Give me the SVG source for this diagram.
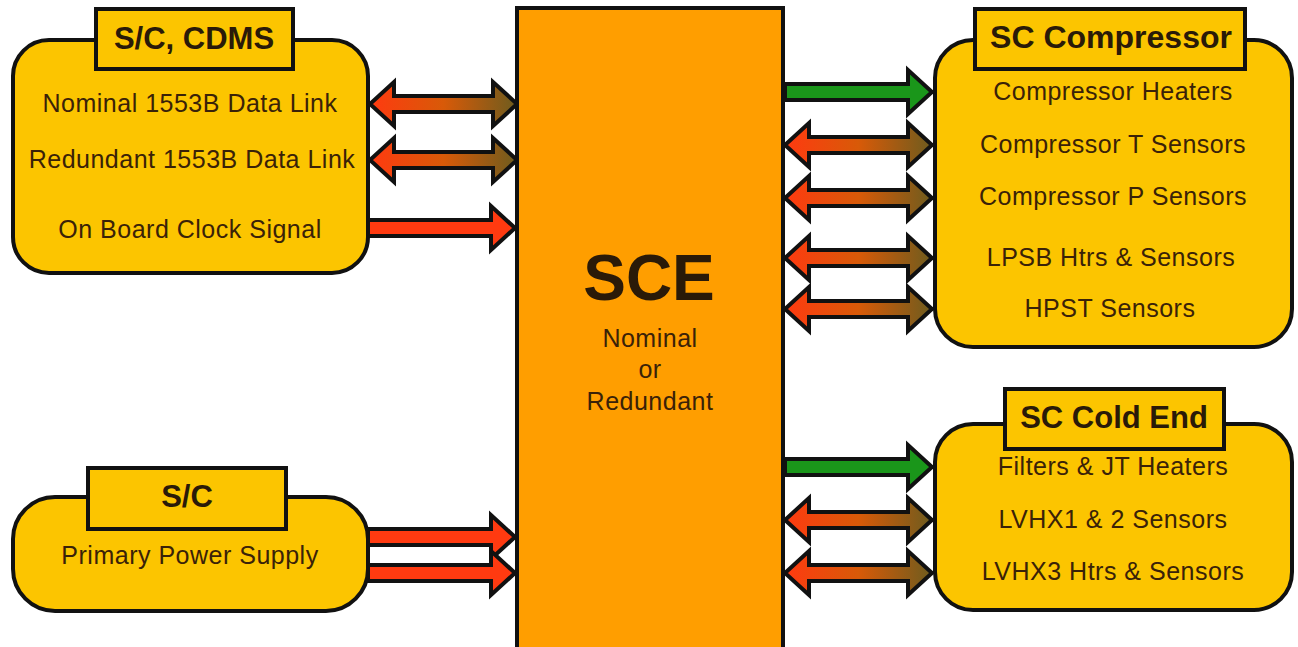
<svg xmlns="http://www.w3.org/2000/svg" width="1298" height="647" viewBox="0 0 1298 647">
<style>
.box{fill:#fcc500;stroke:#111;stroke-width:4}
.title{fill:#fcc500;stroke:#111;stroke-width:4}
.sce{fill:#ff9e00;stroke:#111;stroke-width:4}
.t{font-family:"Liberation Sans",Arial,sans-serif;font-size:25px;letter-spacing:0.5px;fill:#3a2208;text-anchor:middle}
.h{font-family:"Liberation Sans",Arial,sans-serif;font-size:31px;font-weight:bold;fill:#2a1a08;text-anchor:middle}
.arr{stroke:#111;stroke-width:4;stroke-linejoin:miter}
</style>
<defs>
<linearGradient id="rg" x1="0" y1="0" x2="1" y2="0">
<stop offset="0" stop-color="#ff3a10"/>
<stop offset="0.5" stop-color="#d85a08"/>
<stop offset="1" stop-color="#6e5c1e"/>
</linearGradient>
<path id="dbl" d="M0,0 L24,-22 L24,-8 L123,-8 L123,-22 L147,0 L123,22 L123,8 L24,8 L24,22 Z"/>
<path id="sgl" d="M0,-8 L123,-8 L123,-22 L147,0 L123,22 L123,8 L0,8 Z"/>
</defs>
<rect width="1298" height="647" fill="#ffffff"/>

<g id="connectors">
<use href="#dbl" class="arr" fill="url(#rg)" transform="translate(370,104)"/>
<use href="#dbl" class="arr" fill="url(#rg)" transform="translate(370,160)"/>
<use href="#sgl" class="arr" fill="#ff3a10" transform="translate(368,228)"/>
<use href="#sgl" class="arr" fill="#ff3a10" transform="translate(368,537)"/>
<use href="#sgl" class="arr" fill="#ff3a10" transform="translate(368,573)"/>
<use href="#sgl" class="arr" fill="#1a961a" transform="translate(785,92)"/>
<use href="#dbl" class="arr" fill="url(#rg)" transform="translate(785,145)"/>
<use href="#dbl" class="arr" fill="url(#rg)" transform="translate(785,198)"/>
<use href="#dbl" class="arr" fill="url(#rg)" transform="translate(785,258)"/>
<use href="#dbl" class="arr" fill="url(#rg)" transform="translate(785,309)"/>
<use href="#sgl" class="arr" fill="#1a961a" transform="translate(785,467)"/>
<use href="#dbl" class="arr" fill="url(#rg)" transform="translate(785,520)"/>
<use href="#dbl" class="arr" fill="url(#rg)" transform="translate(785,573)"/>
</g>

<g id="sce">
<rect class="sce" x="517" y="8" width="266" height="645"/>
<text class="h" x="649" y="300" style="font-size:64px">SCE</text>
<text class="t" x="650" y="347">Nominal</text>
<text class="t" x="650" y="378">or</text>
<text class="t" x="650" y="410">Redundant</text>
</g>

<g id="sc-cdms">
<rect class="box" x="13" y="40" width="355" height="233" rx="36"/>
<rect class="title" x="96" y="9" width="197" height="60"/>
<text class="h" x="194" y="49">S/C, CDMS</text>
<text class="t" x="190" y="112">Nominal 1553B Data Link</text>
<text class="t" x="192" y="168">Redundant 1553B Data Link</text>
<text class="t" x="190" y="238">On Board Clock Signal</text>
</g>

<g id="sc-power">
<rect class="box" x="13" y="497" width="355" height="114" rx="42"/>
<rect class="title" x="88" y="468" width="198" height="61"/>
<text class="h" x="187" y="507">S/C</text>
<text class="t" x="190" y="564">Primary Power Supply</text>
</g>

<g id="sc-compressor">
<rect class="box" x="935" y="40" width="357" height="307" rx="38"/>
<rect class="title" x="975" y="9" width="270" height="60"/>
<text class="h" x="1111" y="48" style="font-size:32px">SC Compressor</text>
<text class="t" x="1113" y="100">Compressor Heaters</text>
<text class="t" x="1113" y="153">Compressor T Sensors</text>
<text class="t" x="1113" y="205">Compressor P Sensors</text>
<text class="t" x="1111" y="266">LPSB Htrs &amp; Sensors</text>
<text class="t" x="1110" y="317">HPST Sensors</text>
</g>

<g id="sc-cold-end">
<rect class="box" x="935" y="424" width="357" height="186" rx="38"/>
<rect class="title" x="1005" y="389" width="219" height="60"/>
<text class="h" x="1114" y="428">SC Cold End</text>
<text class="t" x="1113" y="475">Filters &amp; JT Heaters</text>
<text class="t" x="1113" y="528">LVHX1 &amp; 2 Sensors</text>
<text class="t" x="1113" y="580">LVHX3 Htrs &amp; Sensors</text>
</g>
</svg>
